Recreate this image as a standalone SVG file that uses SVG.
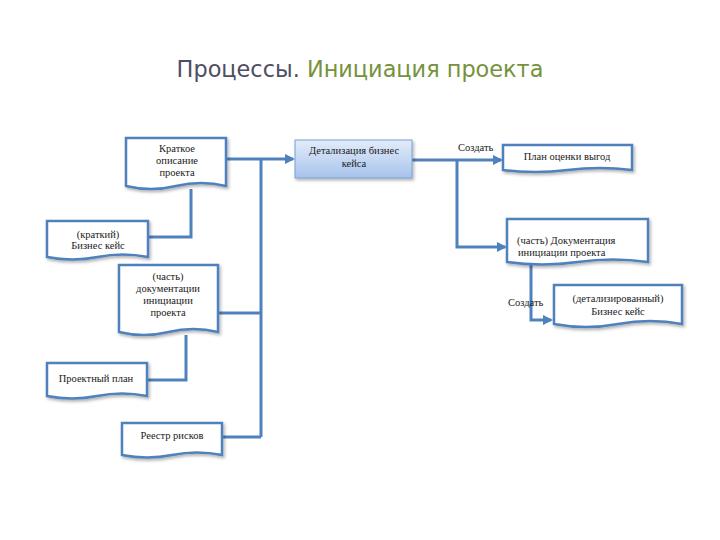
<svg xmlns="http://www.w3.org/2000/svg" width="720" height="540" viewBox="0 0 720 540">
<style>
.doc{fill:#ffffff;stroke:#4f81bd;stroke-width:2.5;filter:url(#sh)}
.t{font-family:"Liberation Serif","Times New Roman",serif;font-size:10.5px;fill:#1a1a1a;text-anchor:middle}
.conn{fill:none;stroke:#4f81bd;stroke-width:3}
.lbl{font-family:"Liberation Serif","Times New Roman",serif;font-size:10.5px;fill:#1a1a1a}
</style>
<defs>
<linearGradient id="g" x1="0" y1="0" x2="0" y2="1">
<stop offset="0" stop-color="#e3ecf9"/>
<stop offset="1" stop-color="#a7c3ec"/>
</linearGradient>
<filter id="sh" x="-10%" y="-10%" width="130%" height="140%">
<feDropShadow dx="1.5" dy="2" stdDeviation="1.5" flood-color="#000" flood-opacity="0.3"/>
</filter>
<marker id="arr" viewBox="0 0 10 10" refX="8" refY="5" markerWidth="3.4" markerHeight="3.4" orient="auto" markerUnits="strokeWidth">
<path d="M0,0 L10,5 L0,10 Z" fill="#4f81bd"/>
</marker>
</defs>
<rect width="720" height="540" fill="#ffffff"/>
<text x="360" y="77" font-family="DejaVu Sans,Verdana,sans-serif" font-size="22.4" text-anchor="middle"><tspan fill="#4e4d63">Процессы.</tspan><tspan fill="#76923c"> Инициация проекта</tspan></text>

<g id="connectors">
<path class="conn" d="M226,159 H293" marker-end="url(#arr)"/>
<path class="conn" d="M261,159 V437"/>
<path class="conn" d="M218,313 H261"/>
<path class="conn" d="M222,437 H261"/>
<path class="conn" d="M191,189 V237 H148"/>
<path class="conn" d="M186,335 V380 H147"/>
<path class="conn" d="M412,160 H501" marker-end="url(#arr)"/>
<path class="conn" d="M457,160 V247 H505" marker-end="url(#arr)"/>
<path class="conn" d="M531,265 V320 H551" marker-end="url(#arr)"/>
<text class="lbl" x="458" y="151">Создать</text>
<text class="lbl" x="508" y="306">Создать</text>
</g>

<g id="n1">
<path class="doc" d="M126,138 H226 V186 Q201,180 176,186 T126,186 Z"/>
<text class="t" x="177" y="152">Краткое</text>
<text class="t" x="177" y="164">описание</text>
<text class="t" x="177" y="176">проекта</text>
</g>
<g id="n2">
<path class="doc" d="M47,221 H148 V257 Q122.75,252 97.5,257 T47,257 Z"/>
<text class="t" x="98" y="238">(краткий)</text>
<text class="t" x="98" y="249">Бизнес кейс</text>
</g>
<g id="n3">
<path class="doc" d="M119,265 H218 V332 Q193.25,326 168.5,332 T119,332 Z"/>
<text class="t" x="168" y="280">(часть)</text>
<text class="t" x="168" y="292">документации</text>
<text class="t" x="168" y="304">инициации</text>
<text class="t" x="168" y="316">проекта</text>
</g>
<g id="n4">
<path class="doc" d="M47,363 H147 V396 Q122,391 97,396 T47,396 Z"/>
<text class="t" x="96" y="382">Проектный план</text>
</g>
<g id="n5">
<path class="doc" d="M122,423 H222 V455 Q197,450 172,455 T122,455 Z"/>
<text class="t" x="172" y="439">Реестр рисков</text>
</g>
<g id="n6">
<rect x="295" y="140" width="117" height="38" fill="url(#g)" stroke="#7a9fd3" stroke-width="1" filter="url(#sh)"/>
<text class="t" x="354" y="154">Детализация бизнес</text>
<text class="t" x="354" y="167">кейса</text>
</g>
<g id="n7">
<path class="doc" d="M503,145 H632 V170 Q599.75,166 567.5,170 T503,170 Z"/>
<text class="t" x="567" y="160">План оценки выгод</text>
</g>
<g id="n8">
<path class="doc" d="M507,219 H648 V262 Q612.75,257 577.5,262 T507,262 Z"/>
<text class="lbl" x="517" y="244">(часть) Документация</text>
<text class="lbl" x="518" y="256">инициации проекта</text>
</g>
<g id="n9">
<path class="doc" d="M554,285 H682 V324 Q650,318 618,324 T554,324 Z"/>
<text class="t" x="618" y="302">(детализированный)</text>
<text class="t" x="618" y="315">Бизнес кейс</text>
</g>
</svg>
